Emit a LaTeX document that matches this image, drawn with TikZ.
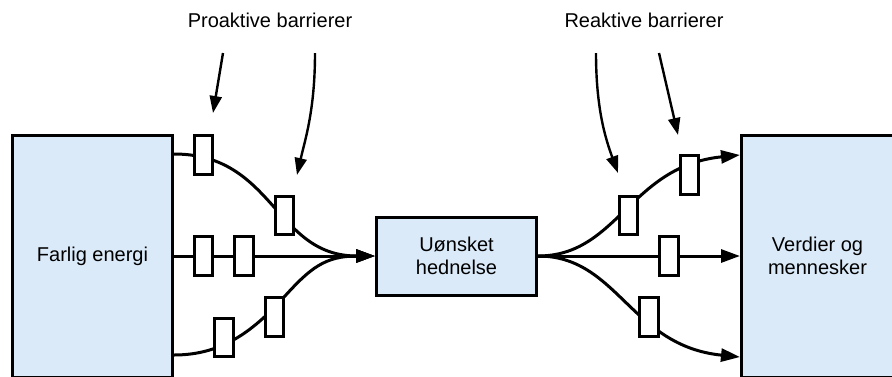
\documentclass[tikz,border=0pt]{standalone}
\usepackage{fontspec}
\setmainfont{Liberation Sans}
\usetikzlibrary{arrows.meta,calc}
\definecolor{boxblue}{RGB}{218,234,249}
\tikzset{
  bigbox/.style={draw=black, line width=3pt, fill=boxblue, align=center,
    font=\fontsize{20}{23.5}\selectfont, inner sep=0pt},
  barrier/.style={draw=black, line width=2.8pt, fill=white,
    minimum width=18.5pt, minimum height=38.5pt, inner sep=0pt},
  flow/.style={line width=3pt, -{Triangle[length=19pt,width=13pt]}},
  hint/.style={line width=2.4pt, -{Triangle[length=17pt,width=12pt]}},
  caption/.style={font=\fontsize{20}{24}\selectfont, anchor=base},
}
\begin{document}
\begin{tikzpicture}[x=1pt,y=-1pt]
\useasboundingbox (0,0) rectangle (892,376);

% main boxes
\node[bigbox, minimum width=160pt, minimum height=242pt] (fe) at (92.5,256) {Farlig energi};
\node[bigbox, minimum width=160pt, minimum height=78pt] (uh) at (456.5,256) {Uønsket\\hednelse};
\node[bigbox, minimum width=152pt, minimum height=242pt] (vm) at (817.5,256) {Verdier og\\mennesker};

% flows from the energy source into the event
\draw[flow] ([yshift=102pt]fe.east) .. controls (274.5,154) and (274.5,256) .. (uh.west);
\draw[flow] (fe.east) -- (uh.west);
\draw[flow] ([yshift=-99pt]fe.east) .. controls (224,355) and (255,329) .. (285,296)
  .. controls (310,268.5) and (325,256) .. (uh.west);

% flows from the event to what is exposed
\draw[flow] (uh.east) .. controls (618,256) and (630,166) .. ([yshift=101pt]vm.west);
\draw[flow] (uh.east) -- (vm.west);
\draw[flow] (uh.east) .. controls (618,256) and (630,346) .. ([yshift=-101pt]vm.west);

% proactive barriers
\node[barrier] (pa) at (203.5,155) {};
\node[barrier] (pb) at (284.5,215.5) {};
\node[barrier] (pc) at (203.5,256) {};
\node[barrier] (pd) at (244,256) {};
\node[barrier] (pe) at (224,337.5) {};
\node[barrier] (pf) at (274.5,317) {};

% reactive barriers
\node[barrier] (ra) at (628.5,215.5) {};
\node[barrier] (rb) at (689.5,175) {};
\node[barrier] (rc) at (669,256) {};
\node[barrier] (rd) at (649,317) {};

% captions
\node[caption] (pro) at (270,27) {Proaktive barrierer};
\node[caption] (rea) at (644,27) {Reaktive barrierer};

% pointers from the captions
\coordinate (p1s) at (223,53);  \coordinate (p1e) at (213,113);
\coordinate (p2s) at (315,53);  \coordinate (p2e) at (297,175);
\coordinate (r1s) at (596,53);  \coordinate (r1e) at (618,173);
\coordinate (r2s) at (659,53);  \coordinate (r2e) at (678,135);
\draw[hint] (p1s) -- (p1e);
\draw[hint] (p2s) .. controls (315,110) and (305,140) .. (p2e);
\draw[hint] (r1s) .. controls (596,110) and (606,140) .. (r1e);
\draw[hint] (r2s) -- (r2e);
\end{tikzpicture}
\end{document}
